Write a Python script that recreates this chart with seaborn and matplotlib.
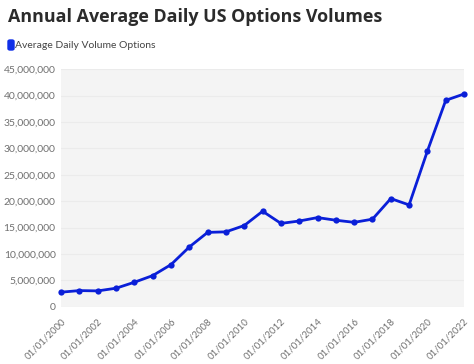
import numpy as np
import pandas as pd
import matplotlib
matplotlib.use('Agg')
import matplotlib.pyplot as plt
import seaborn as sns

# yearly values
years = list(range(2000, 2023))
volumes = [2.78, 3.08, 3.02, 3.53, 4.66, 5.92, 8.0, 11.34, 14.1, 14.2,
           15.4, 18.1, 15.8, 16.25, 16.9, 16.4, 16.0, 16.6, 20.5, 19.3,
           29.5, 39.1, 40.3]
volumes = [v * 1e6 for v in volumes]
series_name = "Average Daily Volume Options"
tick_years = list(range(2000, 2023, 2))
tick_labels = [f"01/01/{y}" for y in tick_years]

df = pd.DataFrame({"year": years, "volume": volumes})

sns.set_style("white")
plt.rcParams['font.family'] = ['Lato', 'DejaVu Sans']

fig = plt.figure(figsize=(4.74, 3.64), dpi=100)
ax = fig.add_axes([0.129, 0.157, 0.850, 0.653])
ax.set_facecolor('#f4f4f4')

line_col = '#0a1fd8'
sns.lineplot(data=df, x="year", y="volume", ax=ax, color=line_col,
             linewidth=2, marker='o', markersize=4.5, markeredgewidth=0, clip_on=False)

ax.set_xlim(2000, 2022)
ax.set_ylim(0, 45e6)
ax.set_yticks(np.arange(0, 45e6 + 1, 5e6))
ax.yaxis.set_major_formatter(matplotlib.ticker.FuncFormatter(lambda v, p: f"{int(v):,}"))
ax.set_xticks(tick_years)
ax.set_xticklabels(tick_labels, rotation=45, ha='right', rotation_mode='anchor')
ax.set_xticks(years, minor=True)
ax.tick_params(axis='x', which='both', length=4, color='#dddddd', labelsize=7, labelcolor='#707070', pad=3)
ax.tick_params(axis='y', length=0, labelsize=7.5, labelcolor='#707070', pad=4)
ax.grid(axis='y', color='#ebebeb', linewidth=0.8)
ax.set_axisbelow(True)
for s in ax.spines.values():
    s.set_visible(False)
ax.set_xlabel("")
ax.set_ylabel("")

fig.text(0.017, 0.953, "Annual Average Daily US Options Volumes", fontsize=12.9,
         fontweight='bold', color='#2b2b2b', va='center', ha='left', family=['Open Sans', 'DejaVu Sans'])
fig.patches.append(matplotlib.patches.FancyBboxPatch((8 / 474, 1 - 50 / 364), 6 / 474, 10 / 364,
                   boxstyle='round,pad=0,rounding_size=0.004', transform=fig.transFigure,
                   color='#1030e8', figure=fig))
fig.text(15 / 474, 1 - 45 / 364, series_name, fontsize=7.5, color='#444444', va='center', ha='left')

fig.savefig('out.png', dpi=100)
